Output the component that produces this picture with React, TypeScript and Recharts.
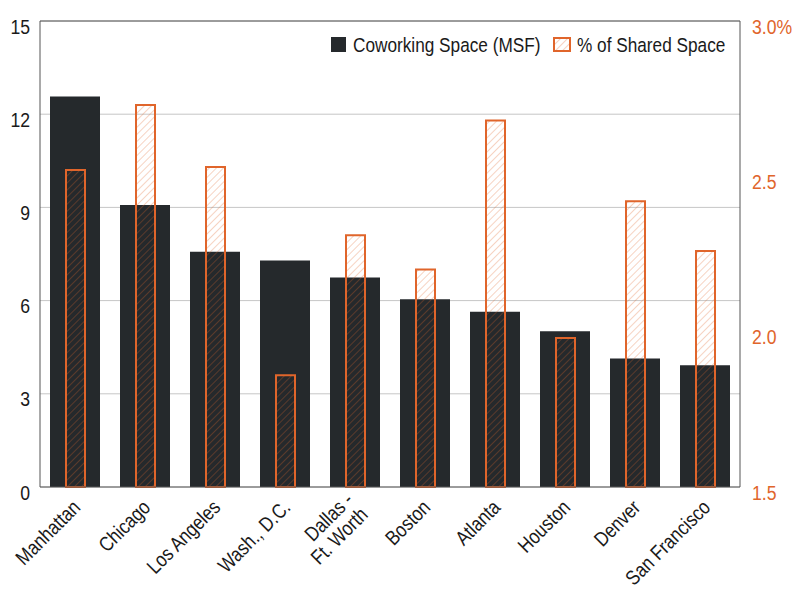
import { BarChart, Bar, XAxis, YAxis, CartesianGrid, Legend, ReferenceLine } from "recharts";

const cities = [
    "Manhattan",
    "Chicago",
    "Los Angeles",
    "Wash., D.C.",
    "Dallas -\nFt. Worth",
    "Boston",
    "Atlanta",
    "Houston",
    "Denver",
    "San Francisco",
];
const coworkingMsf = [12.57, 9.08, 7.57, 7.29, 6.74, 6.04, 5.64, 5.01, 4.14, 3.92];
const sharedPct = [2.52, 2.73, 2.53, 1.86, 2.31, 2.2, 2.68, 1.98, 2.42, 2.26];
const leftTicks = [0, 3, 6, 9, 12, 15];
const rightTicks = [1.5, 2.0, 2.5, 3.0];

const data = cities.map((city, i) => ({
    city,
    msf: coworkingMsf[i],
    pct: sharedPct[i],
}));

const DARK = "#25292c";
const ORANGE = "#e0652b";
const TEXT = "#1a1a1a";
const FONT = "'Liberation Sans', Arial, sans-serif";
// the reference uses a condensed face, so squeeze the text horizontally
const SQUEEZE = 0.84;

function CityTick(props: any) {
    const { x, y, payload } = props;
    const lines = String(payload.value).split("\n");
    const lineH = 21;
    const shift = ((lines.length - 1) * lineH) / 2;
    return (
        <g transform={`translate(${x - 4},${y + 3}) rotate(-45) scale(${SQUEEZE},1)`}>
            <text textAnchor="end" fill={TEXT} fontSize={20.5} fontFamily={FONT}>
                {lines.map((line, i) => (
                    <tspan key={i} x={0} y={15 - shift + i * lineH}>
                        {line}
                    </tspan>
                ))}
            </text>
        </g>
    );
}

function LeftTick(props: any) {
    const { x, y, payload } = props;
    return (
        <text
            transform={`translate(${x},${y + 12.5}) scale(${SQUEEZE},1)`}
            textAnchor="end"
            fill={TEXT}
            fontSize={21}
            fontFamily={FONT}
        >
            {payload.value}
        </text>
    );
}

function RightTick(props: any) {
    const { x, y, payload } = props;
    const v = payload.value as number;
    return (
        <text
            transform={`translate(${x},${y + 12.5}) scale(${SQUEEZE},1)`}
            textAnchor="start"
            fill={ORANGE}
            fontSize={21}
            fontFamily={FONT}
        >
            {v === 3 ? "3.0%" : v.toFixed(1)}
        </text>
    );
}

function LegendBox() {
    return (
        <svg width={420} height={26} style={{ display: "block" }}>
            <defs>
                <pattern id="hatchLegend" patternUnits="userSpaceOnUse" width={5} height={5} patternTransform="rotate(45)">
                    <line x1={0} y1={0} x2={0} y2={5} stroke={ORANGE} strokeOpacity={0.4} strokeWidth={1.5} />
                </pattern>
            </defs>
            <rect x={0} y={3} width={15} height={15} fill={DARK} />
            <text transform={`translate(22,18) scale(${SQUEEZE},1)`} fill={TEXT} fontSize={20.5} fontFamily={FONT}>
                Coworking Space (MSF)
            </text>
            <rect x={223} y={4} width={16} height={13} fill="url(#hatchLegend)" stroke={ORANGE} strokeWidth={2} />
            <text transform={`translate(246,18) scale(${SQUEEZE},1)`} fill={TEXT} fontSize={20.5} fontFamily={FONT}>
                % of Shared Space
            </text>
        </svg>
    );
}

export default function App() {
    return (
        <div style={{ width: 784, height: 584 }}>
            <BarChart
                width={784}
                height={584}
                data={data}
                margin={{ top: 13, right: 0, left: 0, bottom: 0 }}
            >
                <defs>
                    <pattern id="hatch" patternUnits="userSpaceOnUse" width={5} height={5} patternTransform="rotate(45)">
                        <line x1={0} y1={0} x2={0} y2={5} stroke={ORANGE} strokeOpacity={0.38} strokeWidth={1.5} />
                    </pattern>
                </defs>
                <CartesianGrid vertical={false} stroke="#c6c6c6" xAxisId="main" yAxisId="left" />
                <XAxis
                    xAxisId="main"
                    dataKey="city"
                    interval={0}
                    height={105}
                    tickLine={false}
                    axisLine={{ stroke: "#555" }}
                    tick={<CityTick />}
                />
                <XAxis xAxisId="pct" dataKey="city" hide />
                <YAxis
                    yAxisId="left"
                    width={32}
                    domain={[0, 15]}
                    ticks={leftTicks}
                    tickLine={false}
                    tickSize={0}
                    tickMargin={10}
                    axisLine={{ stroke: "#555" }}
                    tick={<LeftTick />}
                />
                <YAxis
                    yAxisId="right"
                    orientation="right"
                    width={52}
                    domain={[1.5, 3.0]}
                    ticks={rightTicks}
                    tickLine={false}
                    tickSize={0}
                    tickMargin={12}
                    axisLine={{ stroke: "#555" }}
                    tick={<RightTick />}
                />
                <ReferenceLine y={15} xAxisId="main" yAxisId="left" stroke="#555" />
                <Legend
                    layout="horizontal"
                    verticalAlign="middle"
                    align="center"
                    wrapperStyle={{ top: 26, left: 323, width: "auto" }}
                    content={() => <LegendBox />}
                />
                <Bar
                    dataKey="msf"
                    name="Coworking Space (MSF)"
                    xAxisId="main"
                    yAxisId="left"
                    fill={DARK}
                    barSize={50}
                    isAnimationActive={false}
                />
                <Bar
                    dataKey="pct"
                    name="% of Shared Space"
                    xAxisId="pct"
                    yAxisId="right"
                    fill="url(#hatch)"
                    stroke={ORANGE}
                    strokeWidth={2}
                    barSize={19}
                    isAnimationActive={false}
                />
            </BarChart>
        </div>
    );
}
